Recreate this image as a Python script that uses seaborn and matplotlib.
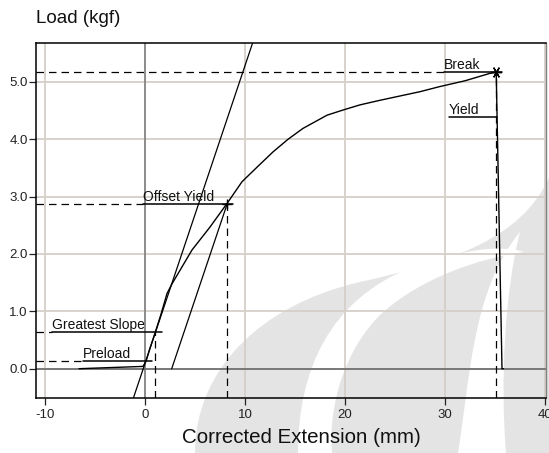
import matplotlib
matplotlib.use("Agg")
import matplotlib.pyplot as plt
from matplotlib.path import Path
from matplotlib.patches import PathPatch
import seaborn as sns

# ---------------- data ----------------
curve_x = [-6.6, -0.2, 0.1, 0.5, 1.0, 1.6, 2.2, 2.7, 4.7, 6.5, 8.2, 9.7, 11.3,
           12.8, 14.3, 15.8, 18.2, 19.8, 21.5, 23.5, 27.5, 29.5, 32.0, 34.5,
           35.12, 35.7, 35.85]
curve_y = [0.0, 0.04, 0.13, 0.36, 0.62, 0.95, 1.31, 1.48, 2.07, 2.47, 2.88,
           3.26, 3.53, 3.78, 4.0, 4.19, 4.42, 4.51, 4.6, 4.68, 4.83, 4.92,
           5.02, 5.15, 5.17, 0.0, 0.0]

slope_line_x = [-1.17, 10.77]
slope_line_y = [-0.516, 5.684]
offset_line_x = [2.67, 8.23]
offset_line_y = [0.0, 2.88]

point_names = ["Preload", "Greatest Slope", "Offset Yield", "Break", "Yield"]
point_x = [0.0, 1.0, 8.23, 35.12, 35.19]
point_y = [0.13, 0.64, 2.88, 5.17, 4.38]
label_x = [-6.2, -9.3, -0.2, 29.9, 30.4]
underline_end_x = [0.67, 1.67, 8.83, 35.72, 35.19]
dashed_left = [True, True, True, True, False]
dashed_down = [False, True, True, True, False]

x_ticks = [-10, 0, 10, 20, 30, 40]
x_tick_labels = ["-10", "0", "10", "20", "30", "40"]
y_ticks = [0, 1, 2, 3, 4, 5]
y_tick_labels = ["0.0", "1.0", "2.0", "3.0", "4.0", "5.0"]
x_lim = (-10.9, 40.05)
y_lim = (-0.516, 5.684)

# ---------------- style ----------------
sns.set_theme(style="white")
plt.rcParams["font.family"] = ["Liberation Sans", "DejaVu Sans"]

W, H = 549, 453
fig = plt.figure(figsize=(W / 100, H / 100), dpi=100)
fig.patch.set_facecolor("white")


def P(x, y):
    return (x / W, 1 - y / H)


def blob(points, color):
    verts = [P(*p) for _, p in points]
    codes = [c for c, _ in points]
    patch = PathPatch(Path(verts, codes), facecolor=color, edgecolor="none",
                      transform=fig.transFigure, zorder=0)
    fig.patches.append(patch)


M, L, C, Z = Path.MOVETO, Path.LINETO, Path.CURVE4, Path.CLOSEPOLY
wm_gray = "#e4e4e4"
# outer flame (background watermark)
blob([(M, (195, 453)), (C, (195, 370)), (C, (260, 305)), (C, (360, 282)),
      (C, (450, 262)), (C, (520, 240)), (C, (549, 178)),
      (L, (549, 453)), (Z, (195, 453))], wm_gray)
# white swoosh 1
blob([(M, (298, 453)), (C, (298, 370)), (C, (330, 300)), (C, (410, 268)),
      (C, (460, 250)), (C, (500, 244)), (C, (524, 252)),
      (C, (480, 258)), (C, (420, 278)), (C, (380, 315)),
      (C, (345, 350)), (C, (328, 405)), (C, (332, 453)),
      (Z, (298, 453))], "white")
# white swoosh 2 (right)
blob([(M, (458, 453)), (C, (470, 380)), (C, (472, 290)), (C, (520, 232)),
      (C, (505, 290)), (C, (500, 380)), (C, (506, 453)),
      (Z, (458, 453))], "white")

ax = fig.add_axes([36 / W, 1 - 398.3 / H, (545.5 - 36) / W, (398.3 - 42.7) / H])
ax.patch.set_visible(False)
ax.set_zorder(1)

ax.set_xlim(*x_lim)
ax.set_ylim(*y_lim)
ax.set_xticks(x_ticks)
ax.set_xticklabels(x_tick_labels)
ax.set_yticks(y_ticks)
ax.set_yticklabels(y_tick_labels)
ax.grid(True, color="#d4d0c8", lw=1.3, zorder=0)
ax.set_axisbelow(True)
ax.axvline(0, color="#808080", lw=1.2, zorder=1)
ax.axhline(0, color="#606060", lw=1.1, zorder=1)

for s in ["left", "bottom", "top"]:
    ax.spines[s].set_color("black")
    ax.spines[s].set_linewidth(1.1)
ax.spines["right"].set_color("#808080")
ax.spines["right"].set_linewidth(1.0)

ax.tick_params(axis="both", direction="out", length=5, width=0.9,
               colors="#222222", labelsize=9.5, bottom=True, left=True)
ax.tick_params(axis="y", pad=1)
ax.tick_params(axis="x", pad=3)

# curve
sns.lineplot(x=curve_x, y=curve_y, sort=False, estimator=None, color="black",
             lw=1.0, ax=ax, zorder=3)
# greatest-slope and offset lines
ax.plot(slope_line_x, slope_line_y, color="black", lw=0.9, zorder=3)
ax.plot(offset_line_x, offset_line_y, color="black", lw=0.9, zorder=3)

dash = (0, (6, 4))
for name, px, py, lx, ux, dl, dd in zip(point_names, point_x, point_y, label_x,
                                        underline_end_x, dashed_left, dashed_down):
    if dl:
        ax.plot([x_lim[0], lx], [py, py], color="black", lw=0.9, ls=dash, zorder=3)
    ax.plot([lx, ux], [py, py], color="black", lw=1.1, zorder=3)
    if dd:
        ax.plot([px, px], [y_lim[0], py], color="black", lw=0.9, ls=dash, zorder=3)
    ax.annotate(name, (lx, py), xytext=(0, 3), textcoords="offset pixels",
                fontsize=10, color="#111111", va="baseline", ha="left", zorder=4)

ax.plot([point_x[2]], [point_y[2]], marker="+", ms=7, mew=1.0, color="black", zorder=4)
ax.plot([point_x[3]], [point_y[3]], marker=(6, 2, 90), ms=8, mew=1.0,
        color="black", zorder=4)

fig.text(36 / W, 1 - 23 / H, "Load (kgf)", fontsize=13.5, color="#111111",
         ha="left", va="baseline")
fig.text(301.5 / W, 1 - 442.7 / H, "Corrected Extension (mm)", fontsize=14.8,
         color="#111111", ha="center", va="baseline")

fig.savefig("out.png", dpi=100)
